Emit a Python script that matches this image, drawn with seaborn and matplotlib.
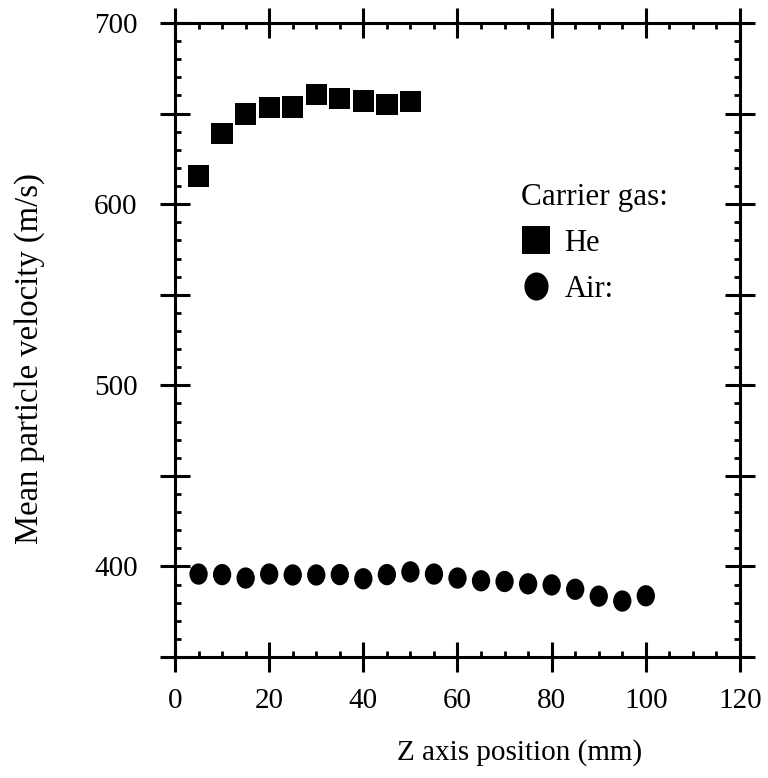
import numpy as np
import pandas as pd
import matplotlib
matplotlib.use("Agg")
import matplotlib.pyplot as plt
import seaborn as sns
from matplotlib.ticker import MultipleLocator, FuncFormatter
from matplotlib.path import Path
from matplotlib.transforms import Affine2D

# Mean particle velocity vs. Z position, two carrier gases
he_z = [5, 10, 15, 20, 25, 30, 35, 40, 45, 50]
he_v = [615.6, 639.1, 649.8, 653.3, 653.6, 660.5, 658.2, 656.9, 655.1, 656.5]

air_z = [5, 10, 15, 20, 25, 30, 35, 40, 45, 50,
         55, 60, 65, 70, 75, 80, 85, 90, 95, 100]
air_v = [395.8, 395.5, 393.6, 395.8, 395.3, 395.3, 395.5, 393.2, 395.5, 397.0,
         395.8, 393.6, 392.1, 391.7, 390.4, 389.8, 387.4, 383.6, 380.9, 383.8]

gas_labels = ["He", "Air:"]

df = pd.concat([
    pd.DataFrame({"z": he_z, "v": he_v, "gas": gas_labels[0]}),
    pd.DataFrame({"z": air_z, "v": air_v, "gas": gas_labels[1]}),
], ignore_index=True)

sns.set_style("ticks")
plt.rcParams["font.family"] = ["Liberation Serif", "DejaVu Serif"]
plt.rcParams["text.color"] = "black"
plt.rcParams["axes.labelcolor"] = "black"

# slightly tall oval for the air points, like the scanned figure
oval = Path.unit_circle().transformed(Affine2D().scale(0.86, 1.0))

fig = plt.figure(figsize=(7.68, 7.78), dpi=100)
ax = fig.add_axes([0.2279, 0.1555, 0.7356, 0.8149])

sns.scatterplot(data=df, x="z", y="v", style="gas", hue="gas",
                markers={"He": "s", "Air:": oval},
                palette={"He": "black", "Air:": "black"},
                s=235, linewidth=0, ax=ax)

ax.set_xlim(0, 120)
ax.set_ylim(350, 700)
ax.xaxis.set_major_locator(MultipleLocator(20))
ax.xaxis.set_minor_locator(MultipleLocator(5))
ax.yaxis.set_major_locator(MultipleLocator(50))
ax.yaxis.set_minor_locator(MultipleLocator(10))
ax.yaxis.set_major_formatter(FuncFormatter(lambda v, p: f"{v:.0f}" if v % 100 == 0 else ""))

for sp in ax.spines.values():
    sp.set_visible(True)
    sp.set_linewidth(2.2)
    sp.set_color("black")

ax.tick_params(which="major", direction="inout", length=22, width=2.2,
               top=True, right=True, labelsize=21, colors="black")
ax.tick_params(which="minor", direction="in", length=4.5, width=2,
               top=True, right=True, colors="black")
ax.tick_params(axis="x", which="major", pad=11)
ax.tick_params(axis="y", which="major", pad=16)

ax.set_xlabel("Z axis position (mm)", fontsize=21, va="center", color="black")
ax.set_ylabel("Mean particle velocity (m/s)", fontsize=23.5, color="black")
ax.xaxis.set_label_coords(0.61, -0.15)
ax.yaxis.set_label_coords(-0.23, 0.47)

sns.move_legend(ax, loc="upper left", bbox_to_anchor=(0.59, 0.767),
                title="Carrier gas:", frameon=False, fontsize=22,
                title_fontsize=22.5, alignment="left", markerscale=1.32,
                handlelength=1.0, handletextpad=0.44, labelspacing=0.55,
                borderaxespad=0)
leg = ax.get_legend()
leg.get_title().set_color("black")
for t in leg.get_texts():
    t.set_color("black")

fig.savefig("out.png", dpi=100)
